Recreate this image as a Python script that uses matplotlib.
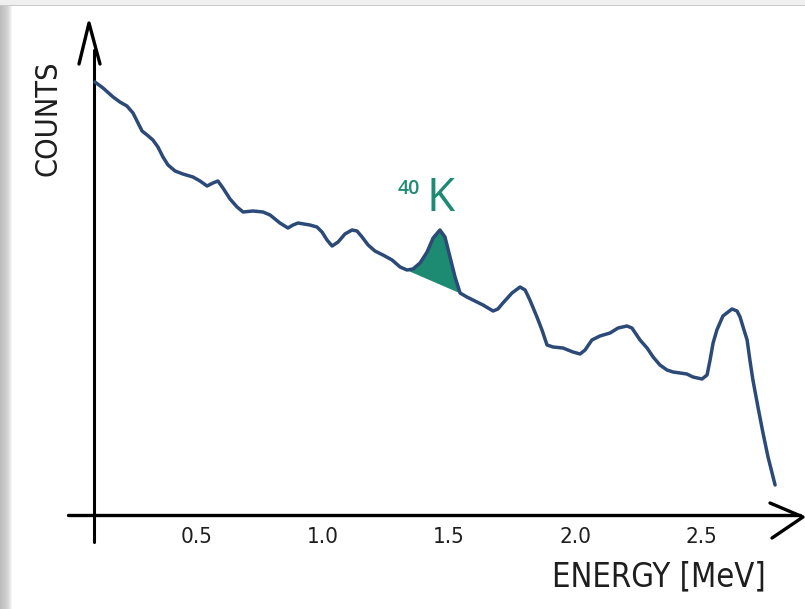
import numpy as np
import matplotlib
matplotlib.use("Agg")
import matplotlib.pyplot as plt
from matplotlib.patches import Rectangle
from matplotlib import font_manager

# Gamma-ray spectrum (arbitrary count units) versus energy in MeV
energy = np.array([
    0.095, 0.127, 0.167, 0.194, 0.222, 0.246, 0.266, 0.282, 0.302, 0.325,
    0.345, 0.365, 0.385, 0.413, 0.444, 0.484, 0.512, 0.540, 0.563, 0.583,
    0.603, 0.631, 0.659, 0.683, 0.722, 0.762, 0.790, 0.829, 0.861, 0.881,
    0.901, 0.948, 0.976, 0.996, 1.016, 1.036, 1.060, 1.087, 1.115, 1.135,
    1.155, 1.179, 1.206, 1.238, 1.274, 1.306, 1.333, 1.357, 1.385, 1.413,
    1.437, 1.464, 1.484, 1.504, 1.524, 1.544, 1.571, 1.595, 1.635, 1.675,
    1.694, 1.714, 1.750, 1.782, 1.802, 1.821, 1.849, 1.869, 1.889, 1.913,
    1.952, 1.992, 2.020, 2.040, 2.067, 2.099, 2.139, 2.171, 2.206, 2.226,
    2.258, 2.286, 2.310, 2.337, 2.365, 2.389, 2.417, 2.444, 2.468, 2.504,
    2.524, 2.536, 2.548, 2.563, 2.587, 2.623, 2.643, 2.655, 2.667, 2.683,
    2.694, 2.706, 2.726, 2.746, 2.766, 2.794,
])
counts = np.array([
    433, 427, 418, 413, 409, 402, 392, 384, 380, 375,
    368, 358, 350, 344, 341, 338, 334, 329, 332, 334,
    327, 316, 308, 303, 304, 303, 300, 292, 287, 290,
    292, 290, 288, 283, 275, 269, 273, 281, 285, 284,
    278, 270, 264, 260, 255, 248, 245, 246, 252, 263,
    277, 285, 278, 258, 238, 222, 218, 215, 210, 204,
    206, 212, 222, 228, 225, 215, 198, 185, 170, 168,
    167, 163, 161, 165, 175, 179, 182, 187, 189, 187,
    175, 167, 158, 150, 145, 143, 142, 141, 138, 136,
    140, 155, 172, 185, 199, 206, 204, 198, 188, 175,
    155, 135, 108, 82, 58, 30,
])

tick_values = [0.5, 1.0, 1.5, 2.0, 2.5]
tick_labels = ["0.5", "1.0", "1.5", "2.0", "2.5"]

# 40K photopeak region, shaded above the straight Compton baseline
peak_lo, peak_hi = 1.333, 1.544

line_color = "#2c4a78"
peak_color = "#1d8a72"
ink = "#1e1e1e"

label_font = font_manager.FontProperties(family="DejaVu Sans", stretch="condensed")

W, H = 805, 609
fig = plt.figure(figsize=(W / 100, H / 100), dpi=100)
fig.patch.set_facecolor("white")

# slide-style frame: grey margin on the left and along the top
for i, shade in enumerate(["#bcbcbc", "#bfbfbf", "#c2c2c2", "#c5c5c5", "#c8c8c8",
                           "#cbcbcb", "#cfcfcf", "#d4d4d4", "#dadada", "#e3e3e3",
                           "#ececec", "#f5f5f5"]):
    fig.patches.append(Rectangle((i / W, 0), 1 / W, 1, transform=fig.transFigure,
                                 facecolor=shade, edgecolor="none", zorder=0))
fig.patches.append(Rectangle((0, 1 - 5 / H), 1, 5 / H, transform=fig.transFigure,
                             facecolor="#efefef", edgecolor="none", zorder=0))
fig.patches.append(Rectangle((0, 1 - 6 / H), 1, 1.2 / H, transform=fig.transFigure,
                             facecolor="#cacaca", edgecolor="none", zorder=0))

ax = fig.add_axes([0, 0, 1, 1])
ax.set_facecolor("none")
x0 = 71.0      # pixel column of E = 0
sx = 252.0     # pixels per MeV
base = 515.0   # pixel row of zero counts
ax.set_xlim(-x0 / sx, (W - x0) / sx)
ax.set_ylim(base - H, base)
ax.axis("off")


def ex(px):
    return (px - x0) / sx


def cy(py):
    return base - py


# axes drawn by hand, with open arrowheads
ax.plot([ex(68), ex(800)], [0, 0], color="black", lw=2.4, solid_capstyle="round")
ax.plot([ex(94), ex(94)], [cy(542), cy(50)], color="black", lw=2.2, solid_capstyle="round")
ax.plot([ex(79), ex(89), ex(100)], [cy(64), cy(23), cy(64)], color="black",
        lw=2.4, solid_joinstyle="round", solid_capstyle="round")
ax.plot([ex(770), ex(803), ex(772)], [cy(503), cy(517), cy(538)], color="black",
        lw=2.4, solid_joinstyle="round", solid_capstyle="round")

# spectrum
mask = (energy >= peak_lo) & (energy <= peak_hi)
pe = energy[mask]
pc = counts[mask]
baseline = np.interp(pe, [pe[0], pe[-1]], [pc[0], pc[-1]])
ax.fill_between(pe, baseline, pc, color=peak_color, lw=0, zorder=2)
ax.plot(energy, counts, color=line_color, lw=2.5, solid_joinstyle="round",
        solid_capstyle="round", zorder=3)

for v, t in zip(tick_values, tick_labels):
    ax.text(v, cy(537), t, ha="center", va="center", fontsize=16,
            fontproperties=label_font, color=ink)

ax.text(ex(659), cy(577), "ENERGY [MeV]", ha="center", va="center",
        fontproperties=label_font, fontsize=23.5, color=ink)
ax.text(ex(48), cy(118), "COUNTS", ha="center", va="center", rotation=90,
        fontproperties=label_font, fontsize=22, color=ink)

ax.text(ex(441), cy(199), "K", ha="center", va="center", fontsize=33,
        family=["Open Sans", "DejaVu Sans"], color=peak_color)
ax.text(ex(409), cy(189), "40", ha="center", va="center", fontsize=14,
        fontweight="semibold", family=["Open Sans", "DejaVu Sans"], color=peak_color)

fig.savefig("out.png", dpi=100, facecolor=fig.get_facecolor())
